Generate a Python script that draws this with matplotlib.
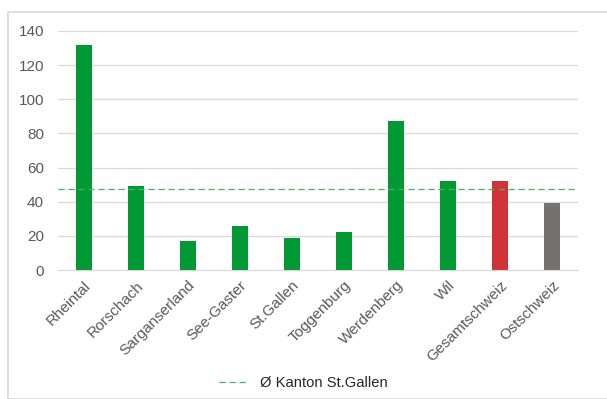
import matplotlib.pyplot as plt
from matplotlib.patches import Rectangle

plt.rcParams['font.family'] = ['Liberation Sans', 'DejaVu Sans']

regions = ['Rheintal', 'Rorschach', 'Sarganserland', 'See-Gaster', 'St.Gallen',
           'Toggenburg', 'Werdenberg', 'Wil', 'Gesamtschweiz', 'Ostschweiz']
values = [132, 49, 17, 26, 19, 22, 87, 52, 52, 39]
bar_colors = ['#009933'] * 8 + ['#D13438', '#767171']
kanton_avg = 47.5

fig = plt.figure(figsize=(6.07, 3.99), dpi=100)
W, H = 607, 399

# light frame around the chart area
fig.patches.append(Rectangle((8 / W, 0), 1, 1 - 12 / H, transform=fig.transFigure,
                             fill=False, edgecolor='#D9D9D9', linewidth=1.2))

ax = fig.add_axes([58 / W, 1 - 270 / H, 520 / W, 239 / H])
x = range(len(regions))
ax.bar(x, values, width=0.31, color=bar_colors, zorder=3)
ax.axhline(kanton_avg, color='#4CAF64', linestyle=(0, (5, 3)), linewidth=0.9,
           zorder=4, label='Ø Kanton St.Gallen')

ax.set_xlim(-0.5, len(regions) - 0.5)
ax.set_ylim(0, 140)
ax.set_yticks(range(0, 141, 20))
ax.grid(axis='y', color='#D9D9D9', linewidth=0.9, zorder=0)
for s in ['top', 'right', 'left']:
    ax.spines[s].set_visible(False)
ax.spines['bottom'].set_color('#D9D9D9')
ax.tick_params(axis='both', length=0, colors='#595959', labelsize=11)
ax.tick_params(axis='y', pad=10)
ax.set_xticks(list(x))
ax.set_xticklabels(regions, rotation=45, ha='right', rotation_mode='anchor')
ax.tick_params(axis='x', pad=6)

fig.legend(loc='center', bbox_to_anchor=(0.5, 1 - 383 / H), frameon=False,
           fontsize=10.6, handlelength=2.0, labelcolor='#262626')

fig.savefig('out.png', dpi=100)
